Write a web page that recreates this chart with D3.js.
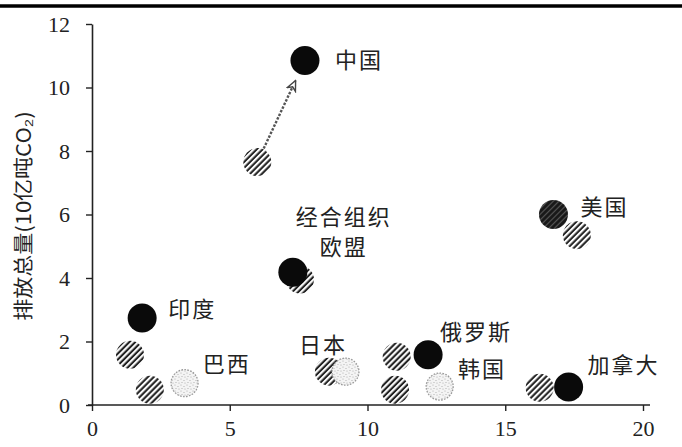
<!DOCTYPE html>
<html>
<head>
<meta charset="utf-8">
<script src="https://cdn.jsdelivr.net/npm/d3@7"></script>
<style>
  html, body { margin: 0; padding: 0; background: #fff; }
  svg { display: block; }
</style>
</head>
<body>
<svg id="chart" width="682" height="447"></svg>
<script>
// ---- data ----
const countries = ["中国", "美国", "经合组织欧盟", "印度", "巴西", "日本", "俄罗斯", "韩国", "加拿大"];
const labelLines = [["中国"], ["美国"], ["经合组织", "欧盟"], ["印度"], ["巴西"], ["日本"], ["俄罗斯"], ["韩国"], ["加拿大"]];
const solidX  = [7.73, 16.75, 7.29, 1.82, null, null, 12.2, null, 17.3];
const solidY  = [10.85, 6.0, 4.18, 2.74, null, null, 1.58, null, 0.57];
const hatchX  = [6.0, 17.6, 7.55, 1.38, 2.1, 8.6, 11.06, 11.0, 16.25];
const hatchY  = [7.65, 5.35, 3.95, 1.58, 0.48, 1.05, 1.52, 0.48, 0.54];
const dotX    = [null, null, null, null, 3.36, 9.2, null, 12.62, null];
const dotY    = [null, null, null, null, 0.69, 1.05, null, 0.58, null];
const xTicks  = [0, 5, 10, 15, 20];
const yTicks  = [0, 2, 4, 6, 8, 10, 12];
const yTitle  = "排放总量(10亿吨CO₂)";

// ---- layout / style (not data) ----
const W = 682, H = 447;
const x = d3.scaleLinear().domain([0, 20]).range([92, 643]);
const y = d3.scaleLinear().domain([0, 12]).range([405, 24]);
const R = 14;
// label offsets from each country's reference point (solid if present, else hatched)
const labelOffset = [[30, -3, "start"], [27, -10, "start"], [51, -57, "middle"], [26, -11, "start"],
                     [53, -28, "start"], [-30, -29, "start"], [12, -25, "start"], [63, -23, "start"], [19, -24, "start"]];
const lineGap = 30;

const svg = d3.select("#chart");
const defs = svg.append("defs");

// hatch pattern "/"
const hp = defs.append("pattern").attr("id", "hatch").attr("patternUnits", "userSpaceOnUse")
  .attr("width", 4.2).attr("height", 4.2).attr("patternTransform", "rotate(45)");
hp.append("rect").attr("width", 4.2).attr("height", 4.2).attr("fill", "#fff");
hp.append("line").attr("x1", 1.5).attr("y1", -1).attr("x2", 1.5).attr("y2", 5.2)
  .attr("stroke", "#222").attr("stroke-width", 2.1);

// dark hatch (USA black point)
const hd = defs.append("pattern").attr("id", "hatchDark").attr("patternUnits", "userSpaceOnUse")
  .attr("width", 4).attr("height", 4).attr("patternTransform", "rotate(45)");
hd.append("rect").attr("width", 4).attr("height", 4).attr("fill", "#161616");
hd.append("line").attr("x1", 1.5).attr("y1", -1).attr("x2", 1.5).attr("y2", 5)
  .attr("stroke", "#555").attr("stroke-width", 1.2);

// speckle pattern for dotted circles
const sp = defs.append("pattern").attr("id", "speckle").attr("patternUnits", "userSpaceOnUse")
  .attr("width", 6).attr("height", 6);
sp.append("rect").attr("width", 6).attr("height", 6).attr("fill", "#f4f4f4");
[[1, 1], [4, 2.5], [2, 4.5], [5, 5]].forEach(([cx, cy]) =>
  sp.append("circle").attr("cx", cx).attr("cy", cy).attr("r", 0.6).attr("fill", "#aaa"));

// arrow marker
defs.append("marker").attr("id", "arrow").attr("viewBox", "0 0 12 12")
  .attr("refX", 11).attr("refY", 6).attr("markerWidth", 12).attr("markerHeight", 12)
  .attr("markerUnits", "userSpaceOnUse").attr("orient", "auto")
  .append("path").attr("d", "M1,1.5 L11,6 L1,10.5 L4,6 Z")
  .attr("fill", "#fff").attr("stroke", "#444").attr("stroke-width", 1.4);

// top rule
svg.append("line").attr("x1", 0).attr("x2", W).attr("y1", 6).attr("y2", 6)
  .attr("stroke", "#000").attr("stroke-width", 3.5);

// axes
const numFont = "'Liberation Serif', 'DejaVu Serif', serif";
const xAxis = svg.append("g").attr("transform", `translate(0,${y(0)})`)
  .call(d3.axisBottom(x).tickValues(xTicks).tickFormat(d3.format("d")).tickSize(6).tickSizeOuter(0).tickPadding(9));
const yAxis = svg.append("g").attr("transform", `translate(${x(0)},0)`)
  .call(d3.axisLeft(y).tickValues(yTicks).tickFormat(d3.format("d")).tickSize(6).tickSizeOuter(0).tickPadding(16));
[xAxis, yAxis].forEach(g => {
  g.select(".domain").attr("stroke", "#222").attr("stroke-width", 1.6);
  g.selectAll(".tick line").attr("stroke", "#222").attr("stroke-width", 1.4);
  g.selectAll(".tick text").attr("fill", "#222").style("font-family", numFont).style("font-size", "22px");
});
// x axis extends a bit beyond 20
xAxis.select(".domain").attr("d", `M${x(0) - 4},0H${x(20) + 7}`);

// y title (horizontally stretched to the reference length)
svg.append("text")
  .attr("transform", `translate(22,${216}) rotate(-90) scale(1.1,1)`)
  .attr("text-anchor", "middle").attr("dominant-baseline", "central")
  .style("font-family", "'Noto Sans CJK SC', sans-serif").style("font-size", "20px").attr("fill", "#222")
  .text(yTitle);

// arrow (China: hatched -> solid)
{
  const x1 = x(hatchX[0]), y1 = y(hatchY[0]), x2 = x(solidX[0]), y2 = y(solidY[0]);
  const dx = x2 - x1, dy = y2 - y1, L = Math.hypot(dx, dy);
  svg.append("line")
    .attr("x1", x1 + dx / L * (R + 1)).attr("y1", y1 + dy / L * (R + 1))
    .attr("x2", x2 - dx / L * (R + 8)).attr("y2", y2 - dy / L * (R + 8))
    .attr("stroke", "#555").attr("stroke-width", 2.4).attr("stroke-dasharray", "2.5 1.5")
    .attr("marker-end", "url(#arrow)");
}

const idx = d3.range(countries.length);

// hatched points
svg.append("g").selectAll("circle").data(idx.filter(i => hatchX[i] != null)).join("circle")
  .attr("cx", i => x(hatchX[i])).attr("cy", i => y(hatchY[i])).attr("r", R)
  .attr("fill", "url(#hatch)");

// dotted points
svg.append("g").selectAll("circle").data(idx.filter(i => dotX[i] != null)).join("circle")
  .attr("cx", i => x(dotX[i])).attr("cy", i => y(dotY[i])).attr("r", R - 0.5)
  .attr("fill", "url(#speckle)").attr("stroke", "#999").attr("stroke-width", 1.3)
  .attr("stroke-dasharray", "1.6 1.4");

// solid points
svg.append("g").selectAll("circle").data(idx.filter(i => solidX[i] != null)).join("circle")
  .attr("cx", i => x(solidX[i])).attr("cy", i => y(solidY[i])).attr("r", R + 0.5)
  .attr("fill", i => countries[i] === "美国" ? "url(#hatchDark)" : "#0a0a0a");

// labels
const lg = svg.append("g").style("font-family", "'Noto Sans CJK SC', sans-serif")
  .style("font-size", "22px").attr("fill", "#222");
idx.forEach(i => {
  const px = solidX[i] != null ? x(solidX[i]) : x(hatchX[i]);
  const py = solidX[i] != null ? y(solidY[i]) : y(hatchY[i]);
  const [ox, oy, anchor] = labelOffset[i];
  labelLines[i].forEach((t, k) => {
    lg.append("text").attr("x", px + ox).attr("y", py + oy + k * lineGap)
      .attr("text-anchor", anchor).attr("dominant-baseline", "central")
      .style("letter-spacing", "2px").text(t);
  });
});
</script>
</body>
</html>
